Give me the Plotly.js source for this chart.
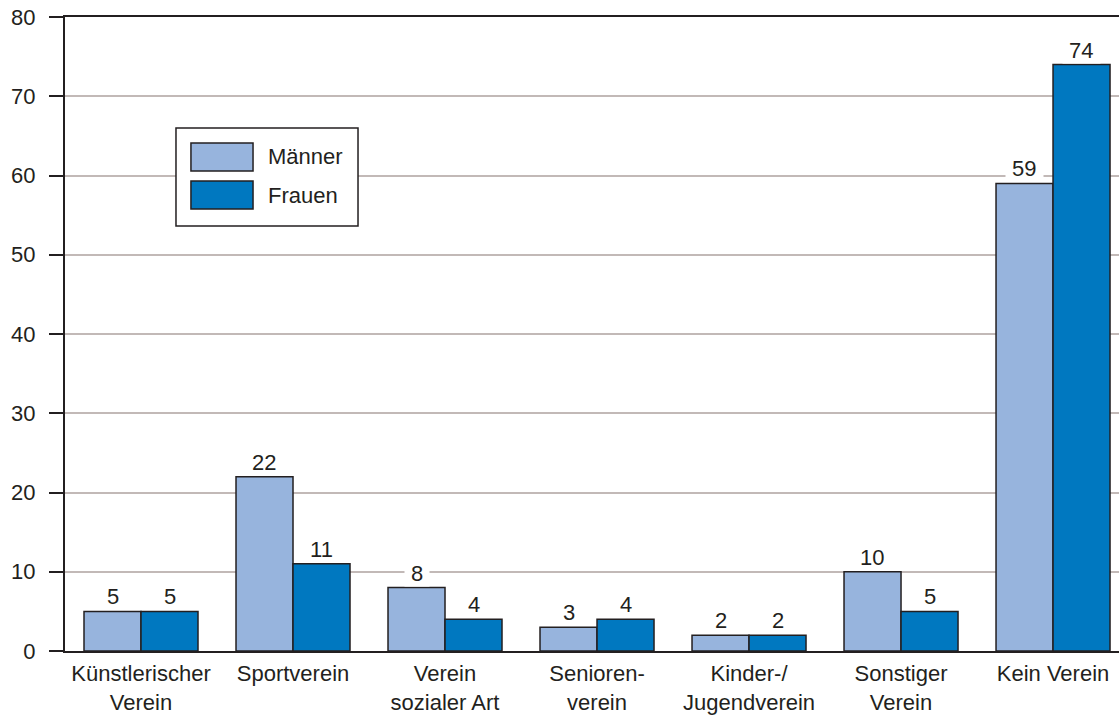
<!DOCTYPE html>
<html>
<head>
<meta charset="utf-8">
<script src="https://cdn.plot.ly/plotly-3.0.1.min.js"></script>
<style>html,body{margin:0;padding:0;background:#fff;}#chart{width:1119px;height:716px;}</style>
</head>
<body>
<div id="chart"></div>
<script>
const categories = ["Künstlerischer<br>Verein", "Sportverein", "Verein<br>sozialer Art", "Senioren-<br>verein", "Kinder-/<br>Jugendverein", "Sonstiger<br>Verein", "Kein Verein"];
const maenner = [5, 22, 8, 3, 2, 10, 59];
const frauen = [5, 11, 4, 4, 2, 5, 74];
const seriesNames = ["Männer", "Frauen"];
const yTicks = [0, 10, 20, 30, 40, 50, 60, 70, 80];

const cMaenner = "#97b4dd";
const cFrauen = "#0078c0";
const textColor = "#231f20";
const FONT = "Liberation Sans, Arial, Helvetica, sans-serif";
const FS = 22;

const idx = categories.map((_, i) => i);

const traces = [
  {type: "bar", name: seriesNames[0], x: idx, y: maenner,
   marker: {color: cMaenner, line: {color: textColor, width: 1.5}}, hoverinfo: "skip"},
  {type: "bar", name: seriesNames[1], x: idx, y: frauen,
   marker: {color: cFrauen, line: {color: textColor, width: 1.5}}, hoverinfo: "skip"}
];

const off = 0.1875;
const NB = "\u00a0";
const annotations = [];
function valueLabel(x, v) {
  return {x: x, y: v, xref: "x", yref: "y", text: NB + String(v) + NB, showarrow: false,
    yanchor: "bottom", xanchor: "center", yshift: 1, bgcolor: "#ffffff", borderpad: 0,
    font: {family: FONT, size: FS, color: textColor}};
}
idx.forEach(i => {
  annotations.push(valueLabel(i - off, maenner[i]));
  annotations.push(valueLabel(i + off, frauen[i]));
});

// manual legend
const shapes = [
  {type: "rect", xref: "paper", yref: "paper", x0: 0.1053, x1: 0.2780, y0: 0.6703, y1: 0.8249,
   fillcolor: "#ffffff", line: {color: textColor, width: 1.5}, layer: "above"},
  {type: "rect", xref: "paper", yref: "paper", x0: 0.1195, x1: 0.1784, y0: 0.7571, y1: 0.8013,
   fillcolor: cMaenner, line: {color: textColor, width: 1.5}, layer: "above"},
  {type: "rect", xref: "paper", yref: "paper", x0: 0.1195, x1: 0.1784, y0: 0.6972, y1: 0.7413,
   fillcolor: cFrauen, line: {color: textColor, width: 1.5}, layer: "above"}
];
annotations.push({xref: "paper", yref: "paper", x: 0.1910, y: 0.7792, text: seriesNames[0],
  showarrow: false, xanchor: "left", yanchor: "middle", font: {family: FONT, size: FS, color: textColor}});
annotations.push({xref: "paper", yref: "paper", x: 0.1910, y: 0.7192, text: seriesNames[1],
  showarrow: false, xanchor: "left", yanchor: "middle", font: {family: FONT, size: FS, color: textColor}});

const layout = {
  width: 1119, height: 716,
  margin: {l: 65, r: 0, t: 17, b: 65, pad: 0},
  paper_bgcolor: "#ffffff", plot_bgcolor: "#ffffff",
  showlegend: false,
  barmode: "group", bargap: 0.25, bargroupgap: 0,
  font: {family: FONT, size: FS, color: textColor},
  xaxis: {
    range: [-0.5, 6.434], tickmode: "array", tickvals: idx, ticktext: categories,
    showline: true, linecolor: textColor, linewidth: 2, mirror: true,
    ticks: "", showgrid: false, zeroline: false, fixedrange: true,
    ticklabelstandoff: 2,
    tickfont: {family: FONT, size: FS, color: textColor}
  },
  yaxis: {
    range: [0, 80], tickmode: "array", tickvals: yTicks,
    showline: true, linecolor: textColor, linewidth: 2,
    ticks: "outside", ticklen: 14, tickwidth: 2, tickcolor: textColor,
    ticklabelstandoff: 9,
    showgrid: true, gridcolor: "#c2b9b7", gridwidth: 2, zeroline: false, fixedrange: true,
    tickfont: {family: FONT, size: FS, color: textColor}
  },
  annotations: annotations,
  shapes: shapes
};

Plotly.newPlot("chart", traces, layout, {displayModeBar: false, staticPlot: true});
</script>
</body>
</html>
